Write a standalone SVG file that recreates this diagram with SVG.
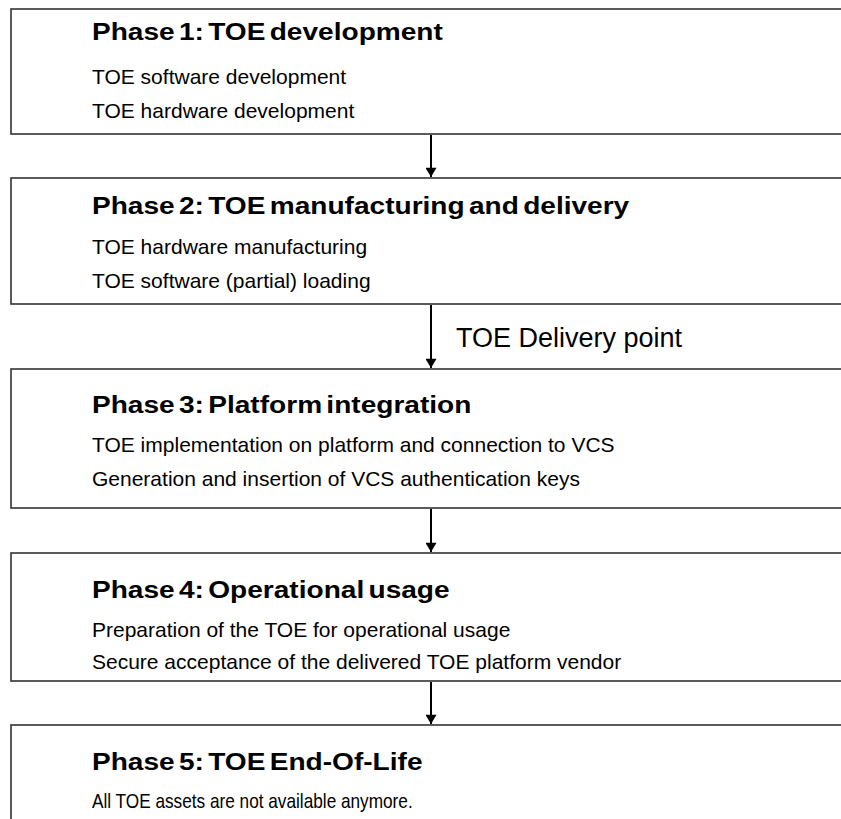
<svg xmlns="http://www.w3.org/2000/svg" width="841" height="819" viewBox="0 0 841 819">
<defs>
<style>
.box{fill:#fff;stroke:#333;stroke-width:1.6}
.title{font-family:"Liberation Sans",Arial,sans-serif;font-weight:bold;font-size:24px;word-spacing:-3px;fill:#000}
.body{font-family:"Liberation Sans",Arial,sans-serif;font-size:21px;fill:#000}
.lbl{font-family:"Liberation Sans",Arial,sans-serif;font-size:27px;fill:#000}
.conn{stroke:#000;stroke-width:2;fill:none}
</style>
<marker id="ah" viewBox="0 0 10 12" refX="10" refY="6" markerWidth="6" markerHeight="5.5" markerUnits="strokeWidth" orient="auto">
<path d="M0,0 L10,6 L0,12 Z" fill="#000"/>
</marker>
</defs>
<rect width="841" height="819" fill="#fff"/>
<g id="phase1">
<rect class="box" x="11" y="9" width="840" height="125"/>
<text class="title" transform="translate(92,40) scale(1.17,1)">Phase 1: TOE development</text>
<text class="body" x="92" y="84">TOE software development</text>
<text class="body" x="92" y="118">TOE hardware development</text>
</g>
<g id="phase2">
<rect class="box" x="11" y="178" width="840" height="126"/>
<text class="title" transform="translate(92,214) scale(1.17,1)">Phase 2: TOE manufacturing and delivery</text>
<text class="body" x="92" y="254">TOE hardware manufacturing</text>
<text class="body" x="92" y="288">TOE software (partial) loading</text>
</g>
<g id="phase3">
<rect class="box" x="11" y="369" width="840" height="139"/>
<text class="title" transform="translate(92,413) scale(1.17,1)">Phase 3: Platform integration</text>
<text class="body" x="92" y="452">TOE implementation on platform and connection to VCS</text>
<text class="body" x="92" y="486">Generation and insertion of VCS authentication keys</text>
</g>
<g id="phase4">
<rect class="box" x="11" y="553" width="840" height="128"/>
<text class="title" transform="translate(92,598) scale(1.17,1)">Phase 4: Operational usage</text>
<text class="body" x="92" y="637">Preparation of the TOE for operational usage</text>
<text class="body" x="92" y="669">Secure acceptance of the delivered TOE platform vendor</text>
</g>
<g id="phase5">
<rect class="box" x="11" y="725" width="840" height="120"/>
<text class="title" transform="translate(92,770) scale(1.17,1)">Phase 5: TOE End-Of-Life</text>
<text class="body" transform="translate(92,808) scale(0.82,1)">All TOE assets are not available anymore.</text>
</g>
<g id="connectors">
<line class="conn" x1="431" y1="135" x2="431" y2="177" marker-end="url(#ah)"/>
<line class="conn" x1="431" y1="305" x2="431" y2="368" marker-end="url(#ah)"/>
<line class="conn" x1="431" y1="509" x2="431" y2="552" marker-end="url(#ah)"/>
<line class="conn" x1="431" y1="682" x2="431" y2="724" marker-end="url(#ah)"/>
<text class="lbl" x="456" y="347">TOE Delivery point</text>
</g>
</svg>
